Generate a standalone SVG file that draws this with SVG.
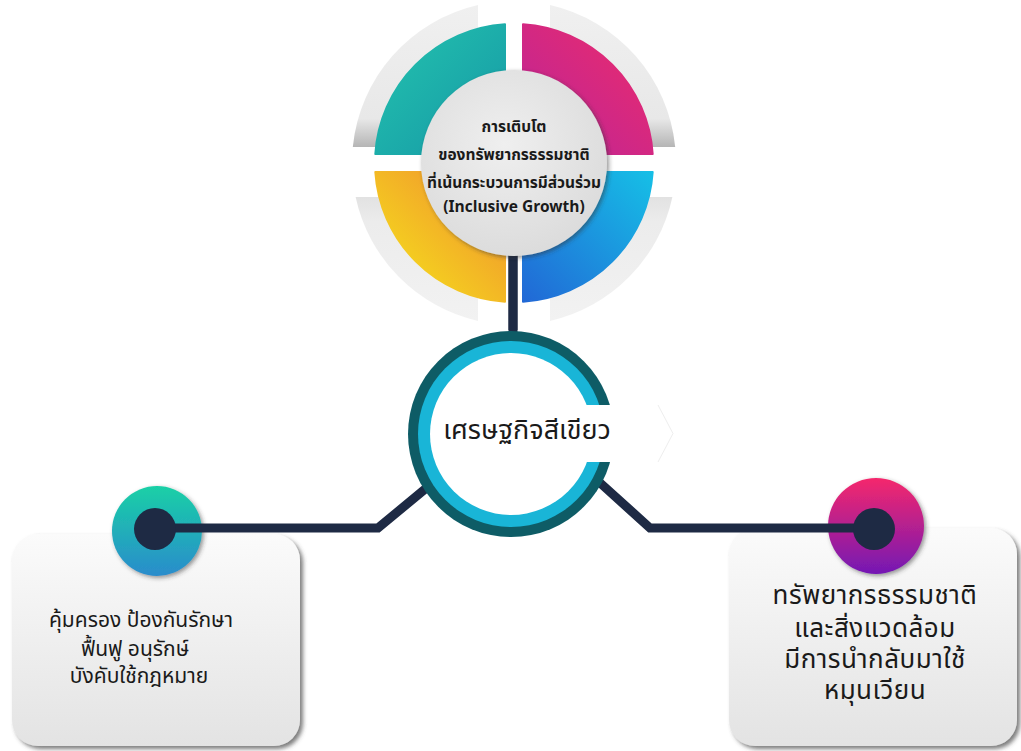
<svg xmlns="http://www.w3.org/2000/svg" width="1021" height="751" viewBox="0 0 1021 751">
<defs>
<style>
.th{font-family:"Noto Sans Thai","Noto Sans","DejaVu Sans",sans-serif;fill:#1a1a1a;text-anchor:middle}
.conn{fill:none;stroke:#1e2a44;stroke-width:9;stroke-linejoin:miter}
.dark{fill:#1e2a44}
</style>
<linearGradient id="gTL" x1="0" y1="0" x2="1" y2="1"><stop offset="0" stop-color="#24c4ae"/><stop offset="1" stop-color="#1597a6"/></linearGradient>
<linearGradient id="gTR" x1="0" y1="1" x2="1" y2="0"><stop offset="0" stop-color="#b9249a"/><stop offset="1" stop-color="#ee2c6a"/></linearGradient>
<linearGradient id="gBL" x1="0" y1="1" x2="1" y2="0"><stop offset="0" stop-color="#f6e81a"/><stop offset="1" stop-color="#f08a30"/></linearGradient>
<linearGradient id="gBR" x1="0" y1="1" x2="1" y2="0"><stop offset="0" stop-color="#2168d6"/><stop offset="1" stop-color="#16bfe6"/></linearGradient>
<linearGradient id="gGreyTop" x1="0" y1="0" x2="0" y2="1"><stop offset="0" stop-color="#f0f0f0"/><stop offset="0.8" stop-color="#e8e8e8"/><stop offset="1" stop-color="#b5b5b5"/></linearGradient>
<linearGradient id="gGreyBot" x1="0" y1="0" x2="0" y2="1"><stop offset="0" stop-color="#e2e2e2"/><stop offset="0.2" stop-color="#ececec"/><stop offset="1" stop-color="#f2f2f2"/></linearGradient>
<radialGradient id="gInner" cx="0.45" cy="0.4" r="0.6"><stop offset="0" stop-color="#efefef"/><stop offset="1" stop-color="#dcdcdc"/></radialGradient>
<linearGradient id="gBox" x1="0" y1="0" x2="0" y2="1"><stop offset="0" stop-color="#fbfbfb"/><stop offset="1" stop-color="#e3e3e3"/></linearGradient>
<linearGradient id="gDotL" x1="0" y1="0" x2="0" y2="1"><stop offset="0" stop-color="#19d0a6"/><stop offset="1" stop-color="#2a8ccc"/></linearGradient>
<linearGradient id="gDotR" x1="0" y1="0" x2="0" y2="1"><stop offset="0" stop-color="#f5286c"/><stop offset="1" stop-color="#7418b4"/></linearGradient>
<filter id="sh" x="-20%" y="-20%" width="140%" height="140%"><feDropShadow dx="3" dy="3" stdDeviation="2" flood-color="#444" flood-opacity="0.7"/></filter>
<filter id="shs" x="-20%" y="-20%" width="140%" height="140%"><feDropShadow dx="2" dy="2" stdDeviation="2" flood-color="#333" flood-opacity="0.5"/></filter>
</defs>
<rect width="1021" height="751" fill="#ffffff"/>

<g id="node-left-box">
<rect x="12" y="534" width="288" height="212" rx="26" fill="url(#gBox)" filter="url(#sh)"/>
<text class="th" font-size="21" x="141" y="627">คุ้มครอง ป้องกันรักษา</text>
<text class="th" font-size="21" x="135" y="656">ฟื้นฟู อนุรักษ์</text>
<text class="th" font-size="21" x="139" y="683">บังคับใช้กฎหมาย</text>
</g>

<g id="node-right-box">
<rect x="729" y="528" width="288" height="218" rx="26" fill="url(#gBox)" filter="url(#sh)"/>
<text class="th" font-size="26" x="875" y="604" letter-spacing="0.5">ทรัพยากรธรรมชาติ</text>
<text class="th" font-size="26" x="875" y="637" letter-spacing="0.5">และสิ่งแวดล้อม</text>
<text class="th" font-size="26" x="875" y="668" letter-spacing="0.5">มีการนำกลับมาใช้</text>
<text class="th" font-size="26" x="875" y="699" letter-spacing="0.5">หมุนเวียน</text>
</g>

<g id="node-left-dot-ring"><circle cx="157" cy="531" r="45" fill="url(#gDotL)" filter="url(#shs)"/></g>
<g id="node-right-dot-ring"><circle cx="876" cy="526" r="48" fill="url(#gDotR)" filter="url(#shs)"/></g>

<g id="connectors">
<polyline class="conn" points="155,528 378,528 430,485"/>
<polyline class="conn" points="874,528 650,528 598,481"/>
<line class="conn" x1="513" y1="245" x2="513" y2="340"/>
</g>

<g id="node-top">
<path d="M478,5.1 A162 162 0 0 0 352.8,147 L478,147 Z" fill="url(#gGreyTop)"/>
<path d="M550,5.1 A162 162 0 0 1 675.2,147 L550,147 Z" fill="url(#gGreyTop)"/>
<path d="M355.6,197 A162 162 0 0 0 478,320.9 L478,197 Z" fill="url(#gGreyBot)"/>
<path d="M550,197 L672.4,197 A162 162 0 0 1 550,320.9 Z" fill="url(#gGreyBot)"/>
<path d="M505,24.3 A139 139 0 0 0 375.3,154 L505,154 Z" fill="url(#gTL)" stroke="url(#gTL)" stroke-width="2" stroke-linejoin="round"/>
<path d="M523,24.3 A139 139 0 0 1 652.7,154 L523,154 Z" fill="url(#gTR)" stroke="url(#gTR)" stroke-width="2" stroke-linejoin="round"/>
<path d="M375.3,172 A139 139 0 0 0 505,301.7 L505,172 Z" fill="url(#gBL)" stroke="url(#gBL)" stroke-width="2" stroke-linejoin="round"/>
<path d="M523,172 L652.7,172 A139 139 0 0 1 523,301.7 Z" fill="url(#gBR)" stroke="url(#gBR)" stroke-width="2" stroke-linejoin="round"/>
<line class="conn" x1="513" y1="250" x2="513" y2="330"/>
<circle cx="514" cy="163" r="93" fill="url(#gInner)" filter="url(#shs)"/>
<text class="th" font-size="15.5" font-weight="bold" x="514" y="132">การเติบโต</text>
<text class="th" font-size="15.5" font-weight="bold" x="514" y="160">ของทรัพยากรธรรมชาติ</text>
<text class="th" font-size="15.5" font-weight="bold" x="514" y="188">ที่เน้นกระบวนการมีส่วนร่วม</text>
<text class="th" font-size="15.5" font-weight="bold" x="514" y="212">(Inclusive Growth)</text>
</g>

<g id="node-center">
<circle cx="511" cy="434" r="103" fill="#0e5c66"/>
<circle cx="511" cy="434" r="93" fill="#19b5d7"/>
<circle cx="511" cy="434" r="81" fill="#ffffff"/>
<path d="M560,405 L658,405 L673,433.5 L658,462 L560,462 Z" fill="#ffffff"/>
<path d="M658,405 L673,433.5 L658,462" fill="none" stroke="#eeeeee" stroke-width="1"/>
<text class="th" font-size="27" x="527" y="439">เศรษฐกิจสีเขียว</text>
</g>

<g id="node-left-dot"><circle class="dark" cx="155" cy="529" r="21"/></g>
<g id="node-right-dot"><circle class="dark" cx="874" cy="529" r="21"/></g>
</svg>
